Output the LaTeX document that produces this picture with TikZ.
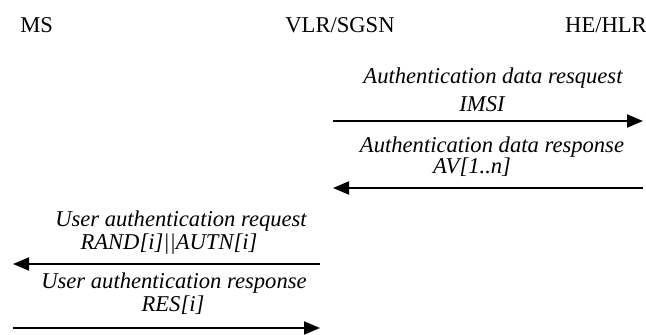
\documentclass[tikz,border=0pt]{standalone}
\usepackage{fontspec}
\setmainfont{Liberation Serif}
\usepackage{tikz}
\usetikzlibrary{arrows.meta, positioning}
\tikzset{
    entity/.style={anchor=base, inner sep=0pt, font=\fontsize{11.3}{13}\selectfont},
    msg/.style={anchor=base, inner sep=0pt, font=\fontsize{11.3}{13}\selectfont\itshape},
    flow/.style={-{Triangle[length=8pt, width=6.5pt]}, line width=1pt}
}

\begin{document}
\begin{tikzpicture}[x=0.5pt, y=-0.5pt]
    \useasboundingbox (0,0) rectangle (646,335);

    % Entities
    \node[entity, anchor=base west] (ms) at (20,33) {MS};
    \node[entity] (vlr) at (340,33) {VLR/SGSN};
    \node[entity] (hlr) at (606,33) {HE/HLR};

    % Message labels
    \node[msg] (req) at (493,84) {Authentication data resquest};
    \node[msg] (imsi) at (482,112) {IMSI};
    \node[msg] (resp) at (492,153) {Authentication data response};
    \node[msg] (av) at (472,174) {AV[1..n]};
    \node[msg] (ureq) at (181,227) {User authentication request};
    \node[msg] (rand) at (169,250) {RAND[i]||AUTN[i]};
    \node[msg] (uresp) at (174,289) {User authentication response};
    \node[msg] (res) at (173,312) {RES[i]};

    % Arrow end points
    \coordinate (vlr1) at (333,121);
    \coordinate (hlr1) at (643,121);
    \coordinate (hlr2) at (643,188);
    \coordinate (vlr2) at (333,188);
    \coordinate (vlr3) at (320,264);
    \coordinate (ms3) at (13,264);
    \coordinate (ms4) at (13,328);
    \coordinate (vlr4) at (320,328);

    % Messages
    \draw[flow] (vlr1) -- (hlr1);
    \draw[flow] (hlr2) -- (vlr2);
    \draw[flow] (vlr3) -- (ms3);
    \draw[flow] (ms4) -- (vlr4);
\end{tikzpicture}
\end{document}
